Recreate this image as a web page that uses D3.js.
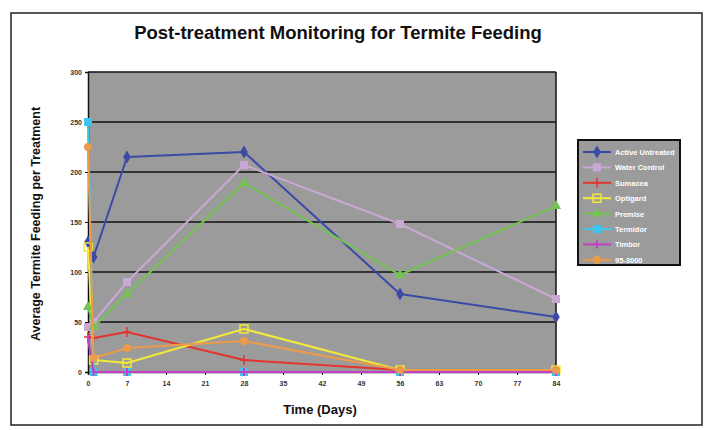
<!DOCTYPE html>
<html>
<head>
<meta charset="utf-8">
<script src="https://cdn.jsdelivr.net/npm/d3@7"></script>
<style>
  body { margin: 0; background: #fff; }
  text { font-family: "Liberation Sans", Arial, sans-serif; }
</style>
</head>
<body>
<script>
// Data
var days = [0, 1, 7, 28, 56, 84];
var seriesNames = ['Active Untreated', 'Water Control', 'Sumacea', 'Optigard',
                   'Premise', 'Termidor', 'Timbor', '95-3000'];
var activeUntreated = [130, 115, 215, 220, 78, 55];
var waterControl = [45, 50, 90, 207, 148, 73];
var sumacea = [35, 34, 40, 12, 2, 2];
var optigard = [125, 12, 9, 43, 2, 2];
var premise = [65, 45, 78, 189, 97, 166];
var termidor = [250, 0, 0, 0, 0, 0];
var timbor = [33, 0, 0, 0, 0, 0];
var x953000 = [225, 14, 24, 31, 2, 2];
var xTicks = [0, 7, 14, 21, 28, 35, 42, 49, 56, 63, 70, 77, 84];
var yTicks = [0, 50, 100, 150, 200, 250, 300];

var seriesValues = [activeUntreated, waterControl, sumacea, optigard,
                    premise, termidor, timbor, x953000];
var colors = ['#3a4aa6', '#c9a9d3', '#e2352f', '#f2ea3a',
              '#74c452', '#3fc4ee', '#c43fc4', '#eb9b4a'];
var shapes = ['diamond', 'square', 'plus', 'hollow', 'triangle', 'square', 'bar', 'circle'];

var w = 709, h = 430;
var svg = d3.select('body').append('svg').attr('width', w).attr('height', h);

// outer frame
svg.append('rect').attr('x', 11).attr('y', 13).attr('width', 691).attr('height', 412)
   .attr('fill', '#fff').attr('stroke', '#222').attr('stroke-width', 1.5);

svg.append('text').attr('x', 338).attr('y', 39).attr('text-anchor', 'middle')
   .attr('font-size', '18.5px').attr('font-weight', 'bold').attr('fill', '#111')
   .text('Post-treatment Monitoring for Termite Feeding');

var x = d3.scaleLinear().domain([0, 84]).range([88, 556]);
var y = d3.scaleLinear().domain([0, 300]).range([372, 72]);

// plot area
svg.append('rect').attr('x', x(0)).attr('y', y(300))
   .attr('width', x(84) - x(0)).attr('height', y(0) - y(300))
   .attr('fill', '#9b9b9b');

svg.selectAll('.grid').data(yTicks.slice(1)).enter().append('line')
   .attr('class', 'grid')
   .attr('x1', x(0)).attr('x2', x(84))
   .attr('y1', function(d) { return y(d); })
   .attr('y2', function(d) { return y(d); })
   .attr('stroke', '#111').attr('stroke-width', 1.5);

svg.append('line').attr('x1', x(84)).attr('x2', x(84)).attr('y1', y(300)).attr('y2', y(0))
   .attr('stroke', '#111').attr('stroke-width', 1.5);

var yAxis = svg.append('g').attr('transform', 'translate(' + x(0) + ',0)')
   .call(d3.axisLeft(y).tickValues(yTicks).tickSize(3));
var xAxis = svg.append('g').attr('transform', 'translate(0,' + y(0) + ')')
   .call(d3.axisBottom(x).tickValues(xTicks).tickSize(3));
[xAxis, yAxis].forEach(function(a) {
  a.select('.domain').attr('stroke', '#111').attr('stroke-width', 1.5);
  a.selectAll('.tick line').attr('stroke', '#111');
  a.selectAll('.tick text').attr('font-size', '7px').attr('font-weight', 'bold')
   .attr('fill', '#333').attr('font-family', '"Liberation Sans", Arial, sans-serif');
});
xAxis.selectAll('.tick text').attr('dy', '1.1em');

svg.append('text').attr('transform', 'translate(40,224) rotate(-90)')
   .attr('text-anchor', 'middle').attr('font-size', '12.5px').attr('font-weight', 'bold')
   .attr('fill', '#111').text('Average Termite Feeding per Treatment');

svg.append('text').attr('x', 320).attr('y', 414).attr('text-anchor', 'middle')
   .attr('font-size', '13px').attr('font-weight', 'bold').attr('fill', '#111')
   .text('Time (Days)');

// draw a marker of a given shape at (cx, cy)
function marker(g, shape, color, cx, cy) {
  if (shape === 'diamond') {
    g.append('path').attr('d', d3.symbol(d3.symbolDiamond, 50)())
     .attr('transform', 'translate(' + cx + ',' + cy + ')').attr('fill', color);
  } else if (shape === 'square') {
    g.append('rect').attr('x', cx - 4).attr('y', cy - 4).attr('width', 8).attr('height', 8)
     .attr('fill', color);
  } else if (shape === 'hollow') {
    g.append('rect').attr('x', cx - 4).attr('y', cy - 4).attr('width', 8).attr('height', 8)
     .attr('fill', 'none').attr('stroke', color).attr('stroke-width', 1.5);
  } else if (shape === 'triangle') {
    g.append('path').attr('d', d3.symbol(d3.symbolTriangle, 45)())
     .attr('transform', 'translate(' + cx + ',' + cy + ')').attr('fill', color);
  } else if (shape === 'plus') {
    g.append('path').attr('d', 'M' + (cx - 4) + ',' + cy + 'h8M' + cx + ',' + (cy - 5) + 'v10')
     .attr('stroke', color).attr('stroke-width', 1.5);
  } else if (shape === 'bar') {
    g.append('path').attr('d', 'M' + cx + ',' + (cy - 4) + 'v8')
     .attr('stroke', color).attr('stroke-width', 2);
  } else {
    g.append('circle').attr('cx', cx).attr('cy', cy).attr('r', 4).attr('fill', color);
  }
}

var line = d3.line()
  .x(function(d) { return x(d[0]); })
  .y(function(d) { return y(d[1]); });

seriesValues.forEach(function(vals, i) {
  var pts = days.map(function(d, j) { return [d, vals[j]]; });
  var g = svg.append('g');
  g.append('path').datum(pts).attr('d', line)
   .attr('fill', 'none').attr('stroke', colors[i]).attr('stroke-width', 2)
   .attr('stroke-linejoin', 'round');
  pts.forEach(function(p) {
    marker(g, shapes[i], colors[i], x(p[0]), y(p[1]));
  });
});

// legend
var lg = svg.append('g').attr('transform', 'translate(578,140)');
lg.append('rect').attr('width', 102).attr('height', 125)
  .attr('fill', '#9b9b9b').attr('stroke', '#111').attr('stroke-width', 2);
seriesNames.forEach(function(name, i) {
  var ly = 12 + i * 15.4;
  lg.append('line').attr('x1', 5).attr('x2', 33).attr('y1', ly).attr('y2', ly)
    .attr('stroke', colors[i]).attr('stroke-width', 2);
  marker(lg, shapes[i], colors[i], 19, ly);
  lg.append('text').attr('x', 37).attr('y', ly + 3).attr('font-size', '7.5px')
    .attr('font-weight', 'bold').attr('fill', '#fff').text(name);
});
</script>
</body>
</html>
